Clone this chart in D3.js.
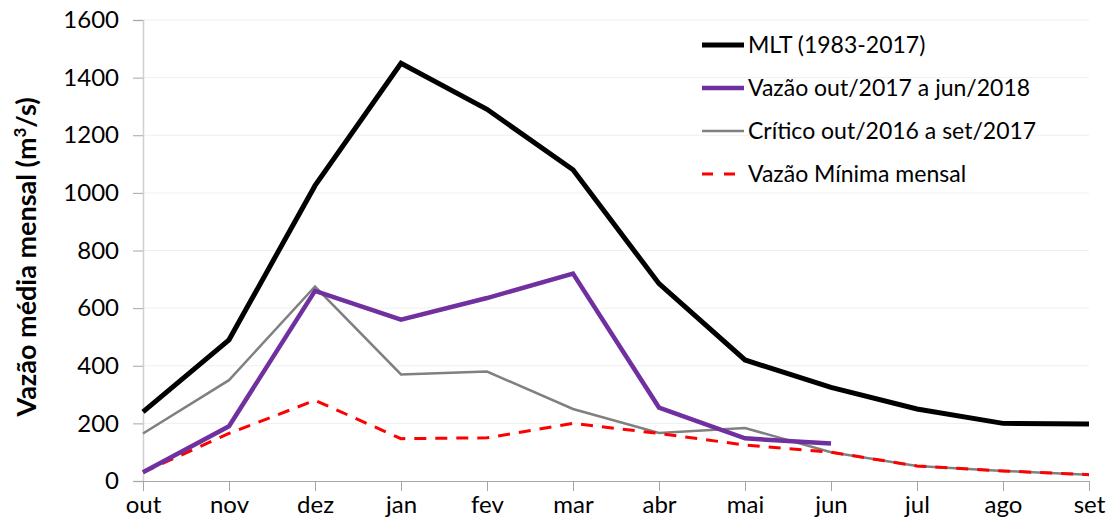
<!DOCTYPE html>
<html lang="pt">
<head>
  <meta charset="UTF-8">
  <title>Vazão média mensal</title>
  <style>
    body { margin: 0; background: #fff; }
    svg { display: block; font-family: Lato, "Open Sans", sans-serif; }
  </style>
</head>
<body>
  <script src="https://d3js.org/d3.v7.min.js"></script>
  <script>
    const width = 1115, height = 527;

    const months = ["out", "nov", "dez", "jan", "fev", "mar", "abr", "mai", "jun", "jul", "ago", "set"];
    const yTicks = [0, 200, 400, 600, 800, 1000, 1200, 1400, 1600];

    // series values
    const mlt = [240, 490, 1025, 1450, 1290, 1080, 685, 420, 325, 250, 200, 198];
    const vazao = [30, 190, 660, 560, 635, 720, 255, 148, 130];
    const critico = [165, 350, 675, 370, 380, 250, 167, 184, 100, 52, 35, 22];
    const minima = [30, 165, 280, 147, 150, 200, 165, 125, 100, 52, 35, 22];

    const seriesNames = ["MLT (1983-2017)", "Vazão out/2017 a jun/2018", "Crítico out/2016 a set/2017", "Vazão Mínima mensal"];

    const svg = d3.select("body").append("svg")
      .attr("width", width)
      .attr("height", height);

    const x = d3.scalePoint().domain(months).range([143, 1089]);
    const y = d3.scaleLinear().domain([0, 1600]).range([481, 20]);

    // gridlines
    svg.append("g").selectAll("line")
      .data(yTicks.slice(1))
      .enter().append("line")
      .attr("x1", 143).attr("x2", 1089)
      .attr("y1", d => y(d)).attr("y2", d => y(d))
      .attr("stroke", "#efefef").attr("stroke-width", 1);

    // y axis
    const yAxis = svg.append("g")
      .attr("transform", "translate(143,0)")
      .call(d3.axisLeft(y).tickValues(yTicks).tickFormat(d3.format("d")).tickSize(10).tickPadding(14));
    yAxis.select(".domain").attr("stroke", "#d0d0d0").attr("stroke-width", 1.5);
    yAxis.selectAll(".tick line").attr("stroke", "#a6a6a6");
    yAxis.selectAll("text").attr("font-size", 24).attr("fill", "#000")
      .style("font-family", "Lato, sans-serif");

    // x axis
    const xAxis = svg.append("g")
      .attr("transform", "translate(0,481)")
      .call(d3.axisBottom(x).tickSize(10).tickPadding(5));
    xAxis.select(".domain").attr("stroke", "#a6a6a6").attr("stroke-width", 1.2)
      .attr("d", "M133,0.5H1089");
    xAxis.selectAll(".tick line").attr("stroke", "#a6a6a6");
    xAxis.selectAll("text").attr("font-size", 24).attr("fill", "#000")
      .style("font-family", "Lato, sans-serif");

    // axis title
    const title = svg.append("text")
      .attr("transform", "translate(36,257) rotate(-90)")
      .attr("text-anchor", "middle")
      .attr("font-size", 27)
      .attr("font-weight", "bold");
    title.append("tspan").text("Vazão média mensal (m");
    title.append("tspan").attr("dy", -10).attr("font-size", 17).text("3");
    title.append("tspan").attr("dy", 10).text("/s)");

    const line = d3.line()
      .x((d, i) => x(months[i]))
      .y(d => y(d));

    const styles = [
      { data: critico, color: "#808080", w: 2.5, dash: null },
      { data: minima, color: "#ff0000", w: 3, dash: "12,9" },
      { data: vazao, color: "#7030a0", w: 4.5, dash: null },
      { data: mlt, color: "#000000", w: 5, dash: null }
    ];

    styles.forEach(s => {
      svg.append("path")
        .datum(s.data)
        .attr("d", line)
        .attr("fill", "none")
        .attr("stroke", s.color)
        .attr("stroke-width", s.w)
        .attr("stroke-dasharray", s.dash)
        .attr("stroke-linejoin", "miter");
    });

    // legend
    const legendStyles = [styles[3], styles[2], styles[0], styles[1]];
    const legend = svg.append("g").attr("transform", "translate(702,45)");
    seriesNames.forEach((name, i) => {
      const g = legend.append("g").attr("transform", `translate(0,${i * 43})`);
      const s = legendStyles[i];
      g.append("line")
        .attr("x1", 0).attr("x2", s.dash ? 33 : 42).attr("y1", 0).attr("y2", 0)
        .attr("stroke", s.color)
        .attr("stroke-width", s.w)
        .attr("stroke-dasharray", s.dash ? "11,11" : null);
      g.append("text")
        .attr("x", 46).attr("y", 8)
        .attr("font-size", 23)
        .text(name);
    });
  </script>
</body>
</html>
